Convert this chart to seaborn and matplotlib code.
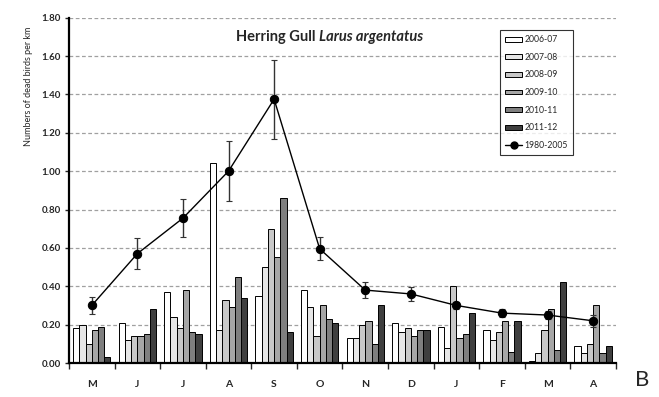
import numpy as np
import pandas as pd
import matplotlib.pyplot as plt
import seaborn as sns
from matplotlib.patches import Patch
from matplotlib.lines import Line2D

months = ["May", "Jun", "Jul", "Aug", "Sep", "Oct", "Nov", "Dec", "Jan", "Feb", "Mar", "Apr"]
month_labels = ["M", "J", "J", "A", "S", "O", "N", "D", "J", "F", "M", "A"]
seasons = ["2006-07", "2007-08", "2008-09", "2009-10", "2010-11", "2011-12"]

s0607 = [0.18, 0.21, 0.37, 1.04, 0.35, 0.38, 0.13, 0.21, 0.19, 0.17, 0.01, 0.09]
s0708 = [0.20, 0.12, 0.24, 0.17, 0.50, 0.29, 0.13, 0.16, 0.08, 0.12, 0.05, 0.05]
s0809 = [0.10, 0.14, 0.18, 0.33, 0.70, 0.14, 0.20, 0.18, 0.40, 0.16, 0.17, 0.10]
s0910 = [0.17, 0.14, 0.38, 0.29, 0.55, 0.30, 0.22, 0.14, 0.13, 0.22, 0.28, 0.30]
s1011 = [0.19, 0.15, 0.16, 0.45, 0.86, 0.23, 0.10, 0.17, 0.15, 0.06, 0.07, 0.05]
s1112 = [0.03, 0.28, 0.15, 0.34, 0.16, 0.21, 0.30, 0.17, 0.26, 0.22, 0.42, 0.09]

# long-term mean 1980-2005 with error bars
lt_mean = [0.30, 0.57, 0.755, 1.00, 1.375, 0.595, 0.38, 0.36, 0.30, 0.26, 0.25, 0.22]
lt_err = [0.045, 0.08, 0.10, 0.155, 0.205, 0.06, 0.04, 0.035, 0.02, 0.02, 0.02, 0.03]

bar_colors = ["#ffffff", "#e6e6e6", "#c8c8c8", "#a6a6a6", "#7f7f7f", "#3f3f3f"]

rows = []
for season, vals in zip(seasons, [s0607, s0708, s0809, s0910, s1011, s1112]):
    for m, v in zip(months, vals):
        rows.append({"month": m, "season": season, "value": v})
data = pd.DataFrame(rows)

sns.set_style("ticks")
plt.rcParams["font.family"] = ["Lato", "DejaVu Sans"]

fig = plt.figure(figsize=(6.59, 3.97), dpi=100)
ax = fig.add_axes([0.1047, 0.0856, 0.830, 0.870])

sns.barplot(data=data, x="month", y="value", hue="season", order=months,
            hue_order=seasons, palette=bar_colors, edgecolor="black",
            linewidth=0.7, width=0.82, saturation=1, legend=False, ax=ax)

x = np.arange(len(months))
ax.errorbar(x, lt_mean, yerr=lt_err, fmt="none", ecolor="#333333",
            elinewidth=1.0, capsize=2, capthick=0.8, zorder=4)
sns.lineplot(x=x, y=lt_mean, color="black", linewidth=1.0, marker="o",
             markersize=6, markeredgecolor="black", ax=ax, zorder=5)

ax.set_ylim(0, 1.8)
ax.set_xlim(-0.5, 11.5)
ax.set_yticks(np.arange(0, 1.81, 0.2))
ax.set_yticklabels([f"{v:.2f}" for v in np.arange(0, 1.81, 0.2)],
                   fontsize=7, fontweight="bold")
ax.yaxis.grid(True, linestyle=(0, (3, 2)), color="#a0a0a0", linewidth=0.9)
ax.set_axisbelow(True)

ax.set_xticks(np.arange(-0.5, 12, 1))
ax.set_xticklabels([])
ax.set_xticks(x, minor=True)
ax.set_xticklabels(month_labels, minor=True, fontsize=7.5, fontweight="bold")
ax.tick_params(axis="x", which="major", direction="out", length=4, width=1)
ax.tick_params(axis="x", which="minor", length=0, pad=12)
ax.tick_params(axis="y", direction="out", length=3, width=1, pad=3)

for side in ["top", "right"]:
    ax.spines[side].set_visible(False)
for side in ["left", "bottom"]:
    ax.spines[side].set_linewidth(1.6)
    ax.spines[side].set_color("black")

ax.set_xlabel("")
ax.set_ylabel("Numbers of dead birds per km", fontsize=6.5)
ax.yaxis.set_label_coords(-0.066, 0.80)

t1 = ax.text(0.305, 0.944, "Herring Gull ", transform=ax.transAxes,
             fontsize=10.5, fontweight="bold", ha="left", va="center")
ax.annotate("Larus argentatus", xy=(1, 0), xycoords=t1, fontsize=10.5,
            fontweight="bold", fontstyle="italic", ha="left", va="bottom")

handles = [Patch(facecolor=c, edgecolor="black", linewidth=0.7, label=s)
           for c, s in zip(bar_colors, seasons)]
handles.append(Line2D([0], [0], color="black", marker="o", markersize=5,
                      linewidth=1, label="1980-2005"))
leg = ax.legend(handles=handles, loc="upper left", bbox_to_anchor=(0.788, 0.964),
                fontsize=6.2, frameon=True, fancybox=False, edgecolor="black",
                handlelength=2.0, handleheight=0.5, labelspacing=1.0,
                handletextpad=0.2, borderpad=0.6, borderaxespad=0)
leg.get_frame().set_linewidth(0.8)

fig.text(635 / 659, 1 - 380 / 397, "B", fontsize=16, ha="left", va="center")

fig.savefig("out.png", dpi=100)
